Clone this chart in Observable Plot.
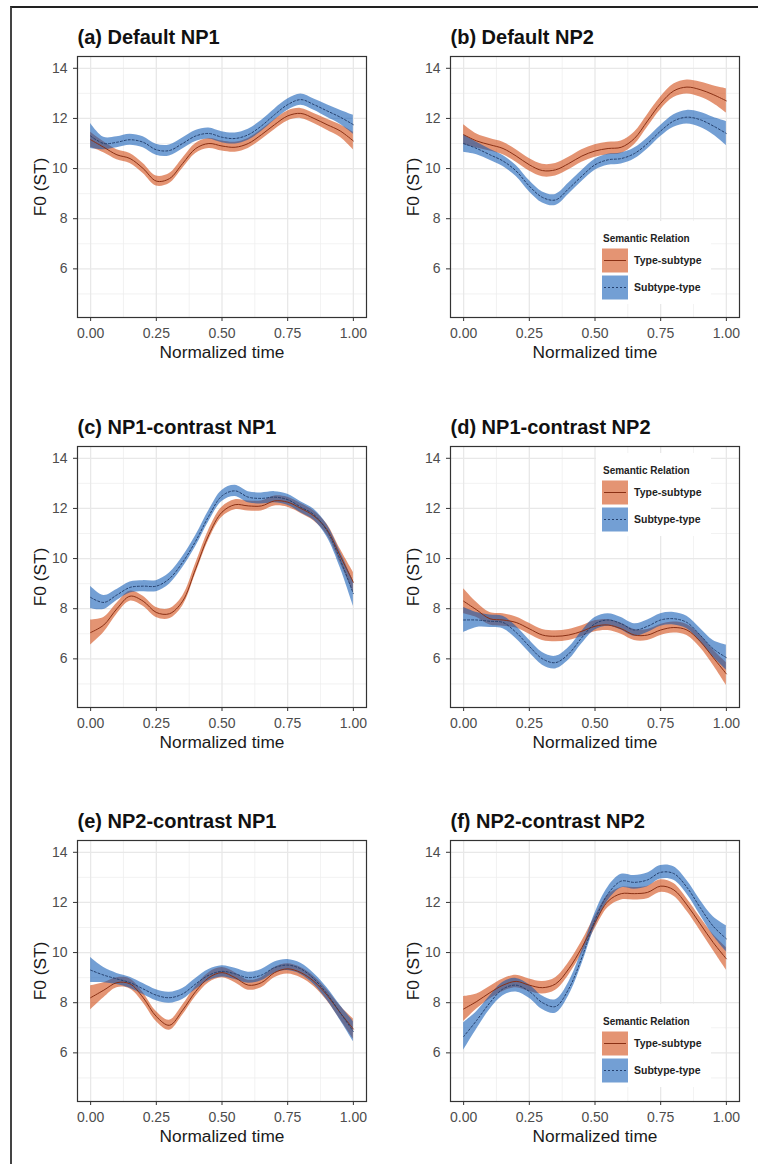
<!DOCTYPE html>
<html>
<head>
<meta charset="utf-8">
<script src="https://cdn.jsdelivr.net/npm/d3@7"></script>
<script src="https://cdn.jsdelivr.net/npm/@observablehq/plot@0.6"></script>
<style>
  body { margin: 0; background: #fff; }
  #root { position: relative; width: 758px; height: 1164px; overflow: hidden; background: #fff;
          font-family: Arial, "Liberation Sans", sans-serif; }
  #border { position: absolute; left: 10px; top: 6px; width: 800px; height: 1200px;
            border-top: 2px solid #222; border-left: 2px solid #444; }
  .cell { position: absolute; }
  .f0 { font-family: Arial, "Liberation Sans", sans-serif; overflow: visible; }
  .f0 g[aria-label="x-axis tick label"], .f0 g[aria-label="y-axis tick label"] { font-size: 14px; fill: #4d4d4d; }
  .f0 g[aria-label="x-axis label"], .f0 g[aria-label="y-axis label"] { font-size: 17.3px; fill: #1a1a1a; }
  .f0 g[aria-label="x-axis tick"], .f0 g[aria-label="y-axis tick"] { stroke: #333; }
  .legend { position: absolute; background: #fff; }
</style>
</head>
<body>
<div id="root"><div id="border"></div></div>
<script>
// ---------- data ----------
const time = [0, 0.05, 0.1, 0.15, 0.2, 0.25, 0.3, 0.35, 0.4, 0.45, 0.5, 0.55, 0.6, 0.65, 0.7, 0.75, 0.8, 0.85, 0.9, 0.95, 1.0];
const relations = ["Type-subtype", "Subtype-type"];
const panelTitles = ["(a) Default NP1", "(b) Default NP2", "(c) NP1-contrast NP1", "(d) NP1-contrast NP2", "(e) NP2-contrast NP1", "(f) NP2-contrast NP2"];
const xTicks = [0, 0.25, 0.5, 0.75, 1];
const xMinor = [0.125, 0.375, 0.625, 0.875];
const yTicks = [6, 8, 10, 12, 14];
const yMinor = [5, 7, 9, 11, 13];

// (a) Default NP1
const aType   = [11.15, 10.85, 10.55, 10.4, 10.0, 9.5, 9.6, 10.2, 10.8, 11.0, 10.9, 10.85, 11.0, 11.35, 11.75, 12.1, 12.2, 12.0, 11.75, 11.5, 11.1];
const aTypeCI = [0.3, 0.22, 0.2, 0.2, 0.2, 0.2, 0.2, 0.2, 0.2, 0.2, 0.2, 0.2, 0.2, 0.2, 0.2, 0.2, 0.2, 0.2, 0.22, 0.25, 0.35];
const aSub    = [11.3, 11.0, 11.05, 11.15, 11.05, 10.75, 10.72, 11.0, 11.3, 11.4, 11.25, 11.2, 11.35, 11.7, 12.15, 12.55, 12.75, 12.55, 12.3, 12.05, 11.75];
const aSubCI  = [0.5, 0.25, 0.22, 0.22, 0.22, 0.22, 0.22, 0.22, 0.22, 0.22, 0.22, 0.22, 0.22, 0.22, 0.22, 0.22, 0.22, 0.22, 0.25, 0.28, 0.38];
// (b) Default NP2
const bType   = [11.35, 11.1, 10.95, 10.8, 10.5, 10.15, 9.92, 9.95, 10.2, 10.5, 10.7, 10.8, 10.85, 11.2, 11.9, 12.6, 13.1, 13.25, 13.15, 12.95, 12.7];
const bTypeCI = [0.4, 0.28, 0.25, 0.25, 0.25, 0.25, 0.25, 0.25, 0.25, 0.25, 0.25, 0.25, 0.25, 0.25, 0.25, 0.25, 0.27, 0.28, 0.3, 0.35, 0.48];
const bSub    = [11.0, 10.8, 10.55, 10.3, 9.9, 9.3, 8.85, 8.75, 9.2, 9.7, 10.15, 10.35, 10.4, 10.6, 11.0, 11.5, 11.9, 12.05, 11.95, 11.7, 11.4];
const bSubCI  = [0.35, 0.25, 0.22, 0.22, 0.22, 0.22, 0.22, 0.22, 0.22, 0.22, 0.22, 0.22, 0.22, 0.22, 0.22, 0.22, 0.25, 0.27, 0.3, 0.35, 0.48];
// (c) NP1-contrast NP1
const cType   = [7.05, 7.35, 8.0, 8.5, 8.3, 7.85, 7.8, 8.3, 9.6, 10.95, 11.85, 12.15, 12.1, 12.1, 12.3, 12.25, 12.0, 11.7, 11.15, 10.1, 9.05];
const cTypeCI = [0.5, 0.3, 0.22, 0.2, 0.2, 0.2, 0.2, 0.2, 0.2, 0.2, 0.2, 0.2, 0.2, 0.2, 0.2, 0.2, 0.2, 0.2, 0.22, 0.28, 0.4];
const cSub    = [8.45, 8.25, 8.55, 8.85, 8.9, 8.9, 9.2, 9.85, 10.7, 11.7, 12.5, 12.7, 12.45, 12.4, 12.45, 12.35, 12.05, 11.75, 11.1, 9.95, 8.6];
const cSubCI  = [0.45, 0.28, 0.22, 0.22, 0.22, 0.22, 0.22, 0.22, 0.22, 0.22, 0.22, 0.22, 0.22, 0.22, 0.22, 0.22, 0.22, 0.22, 0.25, 0.32, 0.5];
// (d) NP1-contrast NP2
const dType   = [8.3, 7.95, 7.6, 7.55, 7.45, 7.2, 6.95, 6.9, 6.95, 7.1, 7.3, 7.35, 7.2, 6.95, 6.95, 7.15, 7.25, 7.15, 6.7, 6.05, 5.4];
const dTypeCI = [0.5, 0.3, 0.25, 0.25, 0.22, 0.22, 0.22, 0.22, 0.22, 0.22, 0.22, 0.22, 0.22, 0.22, 0.22, 0.22, 0.22, 0.22, 0.25, 0.3, 0.45];
const dSub    = [7.55, 7.55, 7.5, 7.45, 7.05, 6.5, 6.0, 5.85, 6.2, 6.85, 7.4, 7.55, 7.4, 7.15, 7.3, 7.55, 7.6, 7.45, 6.95, 6.4, 6.05];
const dSubCI  = [0.5, 0.3, 0.25, 0.25, 0.25, 0.25, 0.25, 0.25, 0.25, 0.25, 0.25, 0.25, 0.25, 0.25, 0.25, 0.25, 0.25, 0.25, 0.27, 0.33, 0.5];
// (e) NP2-contrast NP1
const eType   = [8.2, 8.5, 8.8, 8.75, 8.2, 7.45, 7.1, 7.7, 8.45, 9.0, 9.2, 9.0, 8.7, 8.8, 9.2, 9.35, 9.2, 8.85, 8.3, 7.6, 6.95];
const eTypeCI = [0.48, 0.3, 0.2, 0.2, 0.2, 0.2, 0.2, 0.2, 0.2, 0.2, 0.2, 0.2, 0.2, 0.2, 0.2, 0.2, 0.2, 0.2, 0.22, 0.27, 0.4];
const eSub    = [9.3, 9.1, 8.95, 8.8, 8.55, 8.3, 8.2, 8.35, 8.75, 9.1, 9.25, 9.15, 9.0, 9.1, 9.4, 9.5, 9.35, 8.95, 8.35, 7.6, 6.85];
const eSubCI  = [0.5, 0.3, 0.22, 0.22, 0.22, 0.22, 0.22, 0.22, 0.22, 0.22, 0.22, 0.22, 0.22, 0.22, 0.22, 0.22, 0.22, 0.22, 0.25, 0.3, 0.4];
// (f) NP2-contrast NP2
const fType   = [7.75, 8.05, 8.4, 8.7, 8.85, 8.7, 8.6, 8.75, 9.35, 10.2, 11.2, 12.05, 12.35, 12.35, 12.4, 12.65, 12.5, 11.9, 11.15, 10.4, 9.75];
const fTypeCI = [0.5, 0.3, 0.25, 0.25, 0.25, 0.25, 0.25, 0.25, 0.25, 0.25, 0.25, 0.25, 0.25, 0.25, 0.25, 0.25, 0.25, 0.25, 0.27, 0.32, 0.45];
const fSub    = [6.65, 7.3, 8.0, 8.55, 8.7, 8.45, 8.0, 7.85, 8.55, 9.8, 11.3, 12.35, 12.85, 12.8, 12.9, 13.2, 13.15, 12.6, 11.8, 11.05, 10.55];
const fSubCI  = [0.55, 0.35, 0.27, 0.27, 0.27, 0.27, 0.27, 0.27, 0.27, 0.27, 0.27, 0.27, 0.27, 0.27, 0.27, 0.27, 0.27, 0.27, 0.3, 0.38, 0.52];

// ---------- styling ----------
const bandFill = {"Type-subtype": "#ce3c00", "Subtype-type": "#0050b1"};
const bandOpacity = 0.55;
const lineColor = {"Type-subtype": "#8a3014", "Subtype-type": "#24406e"};
const lineDash = {"Type-subtype": null, "Subtype-type": "2,2"};

const seriesByPanel = [
  [[aType, aTypeCI], [aSub, aSubCI]],
  [[bType, bTypeCI], [bSub, bSubCI]],
  [[cType, cTypeCI], [cSub, cSubCI]],
  [[dType, dTypeCI], [dSub, dSubCI]],
  [[eType, eTypeCI], [eSub, eSubCI]],
  [[fType, fTypeCI], [fSub, fSubCI]]
];
const legendPanels = {1: 237.5, 3: 470, 5: 1020.5};  // vertical centre of legend title (page px)
const rowTops = [0, 390, 784];
const CELL_W = 379, CELL_H = 380;

const root = document.getElementById("root");

seriesByPanel.forEach((series, p) => {
  const col = p % 2, row = Math.floor(p / 2);
  const rows = [];
  series.forEach(([mean, ci], s) => {
    time.forEach((t, i) => rows.push({t, rel: relations[s], m: mean[i], lo: mean[i] - ci[i], hi: mean[i] + ci[i]}));
  });
  const ofRel = r => rows.filter(d => d.rel === r);

  const marks = [
    Plot.ruleX(xMinor, {stroke: "#efefef", strokeWidth: 0.8}),
    Plot.ruleY(yMinor, {stroke: "#efefef", strokeWidth: 0.8}),
    Plot.ruleX(xTicks, {stroke: "#e8e8e8", strokeWidth: 1.3}),
    Plot.ruleY(yTicks, {stroke: "#e8e8e8", strokeWidth: 1.3})
  ];
  relations.forEach(r => {
    marks.push(Plot.areaY(ofRel(r), {x: "t", y1: "lo", y2: "hi", fill: bandFill[r], fillOpacity: bandOpacity, curve: "catmull-rom"}));
  });
  relations.forEach(r => {
    marks.push(Plot.line(ofRel(r), {x: "t", y: "m", stroke: lineColor[r], strokeWidth: 1, strokeDasharray: lineDash[r], curve: "catmull-rom"}));
  });
  marks.push(
    Plot.frame({stroke: "#333", strokeWidth: 1.2}),
    Plot.axisX({ticks: xTicks, tickFormat: d3.format(".2f"), tickSize: 4, tickPadding: 7,
                label: "Normalized time", labelAnchor: "center", labelArrow: "none", labelOffset: 40}),
    Plot.axisY({ticks: yTicks, tickSize: 4, tickPadding: 6,
                label: "F0 (ST)", labelAnchor: "center", labelArrow: "none", labelOffset: 44}),
    Plot.text([panelTitles[p]], {text: d => d, frameAnchor: "top-left", dy: -13, lineAnchor: "bottom",
                textAnchor: "start", fontSize: 20, fontWeight: "bold", fill: "#111"})
  );

  const chart = Plot.plot({
    className: "f0",
    width: CELL_W, height: CELL_H,
    marginLeft: col ? 71 : 77, marginRight: col ? 19 : 13,
    marginTop: 56, marginBottom: 63,
    x: {domain: [-0.05, 1.05]},
    y: {domain: [4.06, 14.47]},
    marks
  });
  const cell = document.createElement("div");
  cell.className = "cell";
  cell.style.left = (col * CELL_W) + "px";
  cell.style.top = rowTops[row] + "px";
  cell.appendChild(chart);
  root.appendChild(cell);

  // legend
  if (legendPanels[p] !== undefined) {
    const T = legendPanels[p];
    const lg = document.createElement("div");
    lg.className = "legend";
    const L = 596, top = T - 17;
    lg.style.left = L + "px"; lg.style.top = top + "px";
    lg.style.width = "115px"; lg.style.height = "83px";
    const svg = d3.create("svg").attr("width", 115).attr("height", 83)
      .style("font-family", "Arial, 'Liberation Sans', sans-serif");
    svg.append("text").attr("x", 7).attr("y", 17).attr("dy", "0.35em")
      .attr("font-size", 10).attr("font-weight", "bold").attr("fill", "#222")
      .text("Semantic Relation");
    relations.forEach((r, k) => {
      const y0 = 27.5 + k * 27;
      svg.append("rect").attr("x", 6).attr("y", y0).attr("width", 26).attr("height", 24)
        .attr("fill", bandFill[r]).attr("fill-opacity", bandOpacity);
      svg.append("line").attr("x1", 8).attr("x2", 30).attr("y1", y0 + 12).attr("y2", y0 + 12)
        .attr("stroke", lineColor[r]).attr("stroke-width", 1)
        .attr("stroke-dasharray", lineDash[r]);
      svg.append("text").attr("x", 38).attr("y", y0 + 12).attr("dy", "0.35em")
        .attr("font-size", 10.5).attr("font-weight", "bold").attr("fill", "#222")
        .text(r);
    });
    lg.appendChild(svg.node());
    root.appendChild(lg);
  }
});
</script>
</body>
</html>
